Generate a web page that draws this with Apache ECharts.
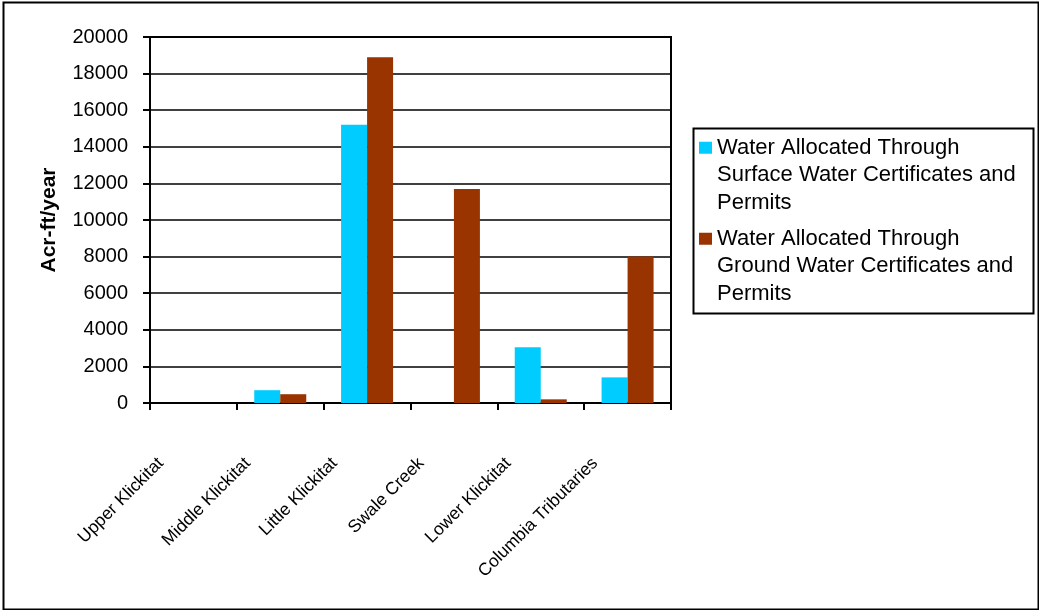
<!DOCTYPE html>
<html>
<head>
<meta charset="utf-8">
<script src="https://cdn.jsdelivr.net/npm/echarts@6/dist/echarts.min.js"></script>
<style>
html,body{margin:0;padding:0;background:#fff;}
#chart{width:1039px;height:610px;}
</style>
</head>
<body>
<div id="chart"></div>
<script>
var categories = ['Upper Klickitat', 'Middle Klickitat', 'Little Klickitat', 'Swale Creek', 'Lower Klickitat', 'Columbia Tributaries'];
var surfaceWater = [0, 700, 15200, 0, 3050, 1400];
var groundWater = [0, 480, 18900, 11700, 200, 8000];
var seriesNames = [
  'Water Allocated Through\nSurface Water Certificates and\nPermits',
  'Water Allocated Through\nGround Water Certificates and\nPermits'
];
var yAxisTitle = 'Acr-ft/year';

var FONT = "'Liberation Sans', Arial, Helvetica, sans-serif";
var chart = echarts.init(document.getElementById('chart'), null, {renderer: 'canvas'});
chart.setOption({
  backgroundColor: '#fff',
  animation: false,
  grid: {left: 150, right: 368, top: 37, bottom: 207, show: true, borderColor: '#000', borderWidth: 2, backgroundColor: 'transparent'},
  legend: {
    orient: 'vertical',
    left: 699,
    top: 79,
    padding: 0,
    itemGap: -46.5,
    itemWidth: 13,
    itemHeight: 12,
    icon: 'rect',
    selectedMode: false,
    formatter: function (name) { return '\n\n' + name; },
    textStyle: {fontFamily: FONT, fontSize: 22, color: '#000', lineHeight: 27.5},
    data: seriesNames
  },
  xAxis: {
    type: 'category',
    data: categories,
    axisLine: {lineStyle: {color: '#000', width: 2}},
    axisTick: {show: true, length: 7, lineStyle: {color: '#000', width: 2}},
    axisLabel: {interval: 0, rotate: 45, margin: 25, padding: [0, 46, 0, 0], fontFamily: FONT, fontSize: 17.5, color: '#000'},
    splitLine: {show: false}
  },
  yAxis: {
    type: 'value',
    min: 0, max: 20000, interval: 2000,
    name: yAxisTitle,
    nameLocation: 'middle',
    nameGap: 90,
    nameTextStyle: {fontFamily: FONT, fontSize: 21, fontWeight: 'bold', color: '#000'},
    axisLine: {show: true, lineStyle: {color: '#000', width: 2}},
    axisTick: {show: true, length: 7, lineStyle: {color: '#000', width: 2}},
    axisLabel: {margin: 22, fontFamily: FONT, fontSize: 20, color: '#000', formatter: function (v) { return String(v); }},
    splitLine: {show: true, lineStyle: {color: '#000', width: 1.5}}
  },
  series: [
    {name: seriesNames[0], type: 'bar', data: surfaceWater, barWidth: 26, barGap: '0%', itemStyle: {color: '#00CCFF'}},
    {name: seriesNames[1], type: 'bar', data: groundWater, barWidth: 26, barGap: '0%', itemStyle: {color: '#993300'}}
  ],
  graphic: [
    {type: 'rect', left: 1, top: 0, shape: {width: 1035, height: 607}, style: {fill: 'none', stroke: '#000', lineWidth: 2}, silent: true, z: 100},
    {type: 'rect', left: 691, top: 126, shape: {width: 340, height: 185}, style: {fill: 'none', stroke: '#000', lineWidth: 2}, silent: true, z: 100}
  ]
});
</script>
</body>
</html>
